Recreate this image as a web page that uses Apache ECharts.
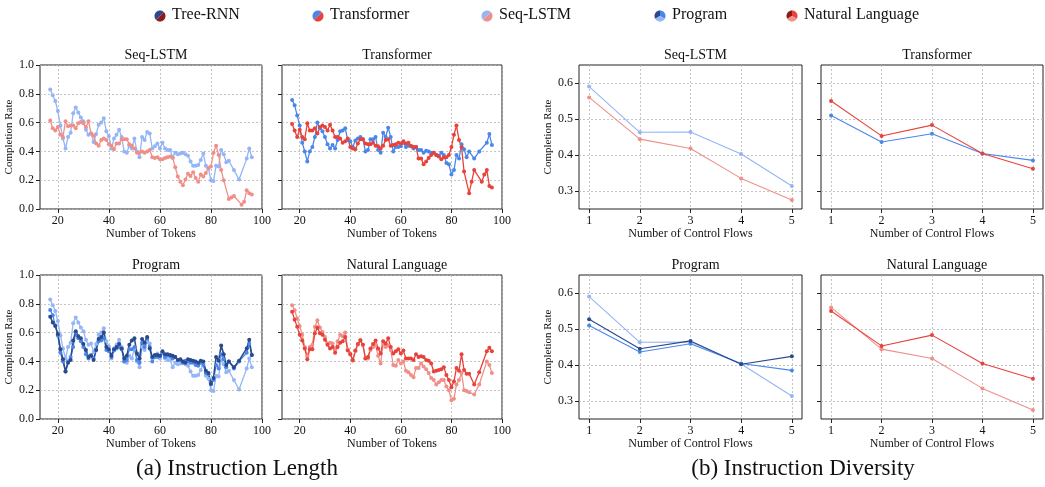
<!DOCTYPE html>
<html><head><meta charset="utf-8">
<script src="https://cdn.jsdelivr.net/npm/echarts@6/dist/echarts.min.js"></script>
<style>html,body{margin:0;padding:0;background:#fff}#c{width:1045px;height:487px}</style>
</head><body><div id="c"></div>
<script>
// ---------- DATA ----------
const tokens = [17,18,19,20,21,22,23,24,25,26,27,28,29,30,31,32,33,34,35,36,37,38,39,40,41,42,43,44,45,46,47,48,49,50,51,52,53,54,55,56,57,58,59,60,61,62,63,64,65,66,67,68,69,70,71,72,73,74,75,76,77,78,79,80,81,82,83,84,85,86,87,88,89,90,91,92,93,94,95,96];

// Seq-LSTM on Program (light blue)
const seqProgram = [0.83,0.79,0.75,0.68,0.58,0.49,0.42,0.50,0.53,0.665,
 0.705,0.67,0.635,0.61,0.55,0.515,0.525,0.465,0.52,0.585,
 0.60,0.63,0.54,0.505,0.42,0.49,0.515,0.55,0.50,0.40,
 0.39,0.44,0.42,0.49,0.40,0.36,0.50,0.48,0.535,0.525,
 0.42,0.435,0.455,0.42,0.46,0.42,0.41,0.41,0.36,0.39,
 0.38,0.385,0.39,0.38,0.37,0.33,0.30,0.30,0.305,0.34,
 0.385,0.30,0.28,0.20,0.195,0.30,0.295,0.41,0.38,0.325,
 0.335,null,0.27,null,0.205,null,null,0.35,0.42,0.36];
// Seq-LSTM on Natural Language (light red)
const seqNL = [0.615,0.56,0.545,0.57,0.515,0.50,0.61,0.575,0.58,0.58,
 0.56,0.595,0.605,0.595,0.57,0.61,0.525,0.51,0.455,0.44,
 0.48,0.49,0.48,0.45,0.44,0.415,0.455,0.455,0.485,0.485,
 0.485,0.45,0.44,0.42,0.39,0.39,0.40,0.39,0.40,0.41,
 0.36,0.355,0.36,0.345,0.345,0.355,0.36,0.365,0.355,0.29,
 0.225,0.19,0.165,0.205,0.245,0.23,0.255,0.215,0.19,0.24,
 0.225,0.25,0.285,0.295,0.39,0.44,0.375,0.27,0.20,null,
 0.07,0.08,0.09,null,null,0.03,0.05,0.13,0.11,0.10];
// Transformer on Program (blue)
const transProgram = [0.757,0.72,0.65,0.58,0.46,0.40,0.33,0.40,0.43,0.50,
 0.60,0.56,0.54,0.50,0.45,0.42,0.445,0.42,0.48,0.54,
 0.545,0.56,0.48,0.47,0.43,0.475,0.49,0.50,0.485,0.40,
 0.41,0.485,0.485,0.50,0.41,0.39,0.53,0.50,0.565,0.50,
 0.40,0.43,0.43,0.435,0.46,0.43,0.44,0.435,0.42,0.43,
 0.41,0.41,0.39,0.405,0.40,0.39,0.39,0.375,0.37,0.39,
 0.375,0.32,0.31,0.24,0.27,0.375,0.35,0.45,0.415,0.36,
 0.40,null,0.35,null,0.40,null,null,0.46,0.52,0.445];
// Transformer on Natural Language (red)
const transNL = [0.59,0.545,0.50,0.55,0.50,0.485,0.595,0.545,0.545,0.56,
 0.525,0.57,0.58,0.57,0.545,0.585,0.545,0.50,0.50,0.49,
 0.46,0.47,0.49,0.43,0.42,0.415,0.455,0.485,0.485,0.455,
 0.45,0.45,0.46,0.44,0.435,0.42,0.44,0.48,0.485,0.44,
 0.445,0.45,0.46,0.455,0.47,0.455,0.46,0.44,0.43,0.43,
 0.35,0.35,0.31,0.33,0.355,0.375,0.39,0.375,0.365,0.345,
 0.36,0.36,0.375,0.43,0.515,0.58,0.48,0.43,0.26,null,
 0.11,0.19,0.27,null,null,0.19,0.24,0.27,0.16,0.15];
// Tree-RNN on Program (dark blue)
const treeProgram = [0.71,0.67,0.645,0.59,0.485,0.415,0.33,0.39,0.41,0.545,
 0.61,0.575,0.56,0.52,0.48,0.43,0.44,0.41,0.48,0.555,
 0.57,0.60,0.50,0.485,0.44,0.485,0.50,0.52,0.49,0.42,
 0.44,0.515,0.545,0.56,0.455,0.42,0.555,0.53,0.57,0.49,
 0.43,0.445,0.445,0.44,0.47,0.45,0.45,0.445,0.44,0.43,
 0.41,0.415,0.40,0.39,0.415,0.41,0.405,0.40,0.39,0.405,
 0.40,0.335,0.32,0.245,0.285,0.43,0.405,0.51,0.45,0.375,
 0.40,null,0.36,null,0.405,null,null,0.49,0.55,0.445];
// "Natural Language" length panel (red)
const nlPanelRed = [0.745,0.69,0.64,0.585,0.545,0.49,0.415,0.485,0.485,0.595,
 0.635,0.595,0.585,0.55,0.515,0.49,0.50,0.46,0.50,0.53,
 0.54,0.57,0.475,0.45,0.41,0.475,0.52,0.545,0.515,0.42,
 0.43,0.49,0.52,0.545,0.49,0.455,0.54,0.525,0.56,0.50,
 0.455,0.47,0.485,0.455,0.475,0.42,0.42,0.42,0.41,0.45,
 0.43,0.435,0.43,0.41,0.405,0.385,0.33,0.335,0.34,0.345,
 0.36,0.305,0.27,0.22,0.26,0.355,0.335,0.45,0.34,0.315,
 0.315,null,0.24,null,0.325,null,null,0.47,0.495,0.47];
// "Natural Language" length panel (light red)
const nlPanelLight = [0.79,0.755,0.70,0.645,0.585,0.50,0.435,0.50,0.515,0.64,
 0.685,0.635,0.605,0.57,0.525,0.53,0.525,0.48,0.54,0.585,
 0.575,0.60,0.485,0.455,0.405,0.47,0.515,0.55,0.515,0.42,
 0.42,0.48,0.50,0.515,0.44,0.385,0.52,0.50,0.51,0.48,
 0.375,0.37,0.41,0.385,0.40,0.335,0.325,0.305,0.29,0.355,
 0.355,0.385,0.365,0.345,0.32,0.285,0.27,0.24,0.255,0.27,
 0.27,0.225,0.20,0.13,0.14,0.24,0.27,0.32,0.20,0.195,
 0.185,null,0.17,null,0.24,null,null,0.40,0.375,0.32];

const flows = [1,2,3,4,5];
const divSeqProgram   = [0.590,0.463,0.464,0.403,0.314];
const divSeqNL        = [0.560,0.444,0.418,0.335,0.275];
const divTransProgram = [0.510,0.436,0.459,0.404,0.385];
const divTransNL      = [0.550,0.453,0.483,0.404,0.362];
const divTreeProgram  = [0.527,0.445,0.467,0.402,0.424];

const lengthTicks = [20,40,60,80,100];
const rateTicks = [0,0.2,0.4,0.6,0.8,1.0];
const flowTicks = [1,2,3,4,5];
const divRateTicks = [0.3,0.4,0.5,0.6];

const legendNames = ['Tree-RNN','Transformer','Seq-LSTM','Program','Natural Language'];
const panelTitles = ['Seq-LSTM','Transformer','Program','Natural Language'];

// ---------- STYLE ----------
const C = {
  treeP:'#2a4a8c', treeN:'#8c1c1c',
  transP:'#4a87ea', transN:'#e8423b',
  seqP:'#94b5f6', seqN:'#f08f88'
};
const FONT = 'Liberation Serif';
const TXT = '#111';

const grids = [
  {left:40, top:65, width:222, height:144},
  {left:282, top:65, width:220, height:144},
  {left:40, top:275, width:222, height:144},
  {left:282, top:275, width:220, height:144},
  {left:579, top:65, width:223, height:144},
  {left:821, top:65, width:222, height:144},
  {left:579, top:275, width:223, height:144},
  {left:821, top:275, width:222, height:144}
];

const grid = grids.map(g => Object.assign({show:true, borderColor:'#222', borderWidth:1, containLabel:false, outerBoundsMode:'none', backgroundColor:'transparent'}, g));

const splitLine = {show:true, lineStyle:{color:'#b5b5b5', type:[2,2], width:0.8}};
const tick = {show:true, inside:false, length:4, lineStyle:{color:'#222'}};

const xAxis = [], yAxis = [];
grids.forEach((g, i) => {
  const isLen = i < 4;
  xAxis.push({
    type:'value', gridIndex:i,
    min: isLen ? 13 : 0.8, max: isLen ? 100 : 5.2,
    name: isLen ? 'Number of Tokens' : 'Number of Control Flows',
    nameLocation:'middle', nameGap:16,
    nameTextStyle:{fontFamily:FONT, fontSize:12, color:TXT, verticalAlign:'top'},
    axisLine:{show:false},
    axisTick:Object.assign({customValues: isLen ? lengthTicks : flowTicks}, tick),
    axisLabel:{customValues: isLen ? lengthTicks : flowTicks, fontFamily:FONT, fontSize:12, color:TXT, margin:6},
    splitLine:splitLine
  });
  const showY = (i % 2) === 0;
  yAxis.push({
    type:'value', gridIndex:i,
    min: isLen ? 0 : 0.25, max: isLen ? 1 : 0.65,
    name: showY ? 'Completion Rate' : '',
    nameLocation:'middle', nameGap:25,
    nameTextStyle:{fontFamily:FONT, fontSize:11, color:TXT},
    axisLine:{show:false},
    axisTick:Object.assign({customValues: isLen ? rateTicks : divRateTicks}, tick),
    axisLabel:{show:showY, customValues: isLen ? rateTicks : divRateTicks, fontFamily:FONT, fontSize:12, color:TXT, margin:6,
      formatter: v => Number(v).toFixed(1)},
    splitLine:splitLine
  });
});

function pairs(xs, ys) {
  const out = [];
  xs.forEach((x, i) => { if (ys[i] !== null && ys[i] !== undefined) out.push([x, ys[i]]); });
  return out;
}
function line(gi, xs, ys, color, w, sym) {
  return {
    type:'line', xAxisIndex:gi, yAxisIndex:gi, data:pairs(xs, ys),
    symbol:'circle', symbolSize:sym, showSymbol:true,
    lineStyle:{color:color, width:w}, itemStyle:{color:color},
    emphasis:{disabled:true}, animation:false, z:2
  };
}
const LW = 1.3, SS = 4;
const series = [
  line(0, tokens, seqProgram, C.seqP, LW, SS),
  line(0, tokens, seqNL, C.seqN, LW, SS),
  line(1, tokens, transProgram, C.transP, LW, SS),
  line(1, tokens, transNL, C.transN, LW, SS),
  line(2, tokens, seqProgram, C.seqP, LW, SS),
  line(2, tokens, transProgram, C.transP, LW, SS),
  line(2, tokens, treeProgram, C.treeP, 1.6, SS),
  line(3, tokens, nlPanelLight, C.seqN, LW, SS),
  line(3, tokens, nlPanelRed, C.transN, LW, SS),
  line(4, flows, divSeqProgram, C.seqP, 1.1, 4),
  line(4, flows, divSeqNL, C.seqN, 1.1, 4),
  line(5, flows, divTransProgram, C.transP, 1.1, 4),
  line(5, flows, divTransNL, C.transN, 1.1, 4),
  line(6, flows, divSeqProgram, C.seqP, 1.1, 4),
  line(6, flows, divTransProgram, C.transP, 1.1, 4),
  line(6, flows, divTreeProgram, C.treeP, 1.1, 4),
  line(7, flows, divSeqNL, C.seqN, 1.1, 4),
  line(7, flows, divTransNL, C.transN, 1.1, 4)
];

const title = grids.map((g, i) => ({
  text: panelTitles[i % 4], left: g.left + g.width / 2, top: g.top - 22, textAlign:'center',
  textStyle:{fontFamily:FONT, fontSize:14, fontWeight:'normal', color:TXT}
}));
title.push({text:'(a) Instruction Length', left:232, top:452, textAlign:'center',
  textStyle:{fontFamily:FONT, fontSize:23, fontWeight:'normal', color:TXT}});
title.push({text:'(b) Instruction Diversity', left:798, top:452, textAlign:'center',
  textStyle:{fontFamily:FONT, fontSize:23, fontWeight:'normal', color:TXT}});

// legend icons (graphic)
function sector(cx, cy, r, a0, a1, fill) {
  const pts = [[cx, cy]];
  const n = 30;
  for (let k = 0; k <= n; k++) {
    const a = (a0 + (a1 - a0) * k / n) * Math.PI / 180;
    pts.push([cx + r * Math.cos(a), cy + r * Math.sin(a)]);
  }
  return {type:'polygon', shape:{points:pts}, style:{fill:fill}};
}
const legendX = [160, 318, 487, 660, 792];
const legendY = 16, R = 5.5;
const graphic = [];
const two = [[C.treeP, C.treeN],[C.transP, C.transN],[C.seqP, C.seqN]];
two.forEach((cc, k) => {
  graphic.push(sector(legendX[k], legendY, R, 135, 315, cc[0]));
  graphic.push(sector(legendX[k], legendY, R, -45, 135, cc[1]));
});
[[C.treeP, C.transP, C.seqP],[C.treeN, C.transN, C.seqN]].forEach((cc, k) => {
  const x = legendX[3 + k];
  graphic.push(sector(x, legendY, R, 150, 270, cc[0]));
  graphic.push(sector(x, legendY, R, 270, 390, cc[1]));
  graphic.push(sector(x, legendY, R, 30, 150, cc[2]));
});
legendNames.forEach((nm, k) => {
  graphic.push({type:'text', left: legendX[k] + 12, top: legendY - 9,
    style:{text:nm, font:'16px "Liberation Serif"', fill:TXT}});
});

const chart = echarts.init(document.getElementById('c'), null, {renderer:'canvas'});
chart.setOption({animation:false, backgroundColor:'#fff', title, grid, xAxis, yAxis, series, graphic});
</script></body></html>
